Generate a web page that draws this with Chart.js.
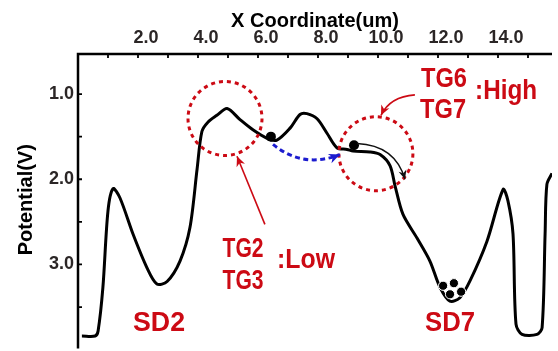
<!DOCTYPE html>
<html>
<head>
<meta charset="utf-8">
<script src="https://cdn.jsdelivr.net/npm/chart.js@4.4.1/dist/chart.umd.min.js"></script>
<style>
  html, body { margin: 0; padding: 0; background: #fff; }
</style>
</head>
<body>
<canvas id="chart" width="558" height="351"></canvas>
<script>
// potential profile
const xPos = [0.13, 0.57, 0.67, 0.83, 1.0, 1.17, 1.4, 1.83, 2.3, 2.63, 2.97, 3.4, 3.73, 3.97,
  4.13, 4.33, 4.63, 4.97, 5.4, 5.83, 6.3, 6.63, 7.07, 7.4, 7.63, 7.97, 8.3, 8.63, 8.97, 9.17,
  9.73, 10.07, 10.4, 10.57, 10.83, 11.3, 11.73, 12.07, 12.4, 12.73, 13.07, 13.63, 14.17, 14.33,
  14.5, 14.6, 14.8, 15.3, 15.47, 15.57, 15.63, 15.8];
const potential = [3.84, 3.84, 3.78, 3.27, 2.37, 2.11, 2.22, 2.64, 3.04, 3.23, 3.2, 2.96, 2.57, 1.88,
  1.44, 1.33, 1.25, 1.17, 1.3, 1.42, 1.52, 1.54, 1.40, 1.24, 1.23, 1.29, 1.46, 1.63, 1.65, 1.67,
  1.68, 1.71, 1.84, 2.08, 2.41, 2.69, 2.96, 3.27, 3.43, 3.39, 3.19, 2.73, 2.12, 2.25,
  2.64, 3.70, 3.82, 3.82, 3.74, 2.64, 2.06, 1.93];

// electrons (black dots)
const electronX = [6.43, 9.2, 12.17, 12.53, 12.4, 12.77];
const electronY = [1.50, 1.60, 3.25, 3.22, 3.35, 3.32];

// ticks
const xTicks = [1, 2, 3, 4, 5, 6, 7, 8, 9, 10, 11, 12, 13, 14, 15];
const xLabelValues = [2, 4, 6, 8, 10, 12, 14];
const yTicks = [1.0, 1.5, 2.0, 2.5, 3.0, 3.5];
const yLabelValues = [1, 2, 3];

// red notes
const noteText = ['TG2', 'TG3', ':Low', 'TG6', 'TG7', ':High', 'SD2', 'SD7'];
const noteX = [5.5, 5.5, 7.6, 12.2, 12.17, 14.27, 2.7, 12.4];
const noteY = [2.81, 3.19, 2.94, 0.82, 1.18, 0.95, 3.68, 3.68];

// dashed gate circles
const circleX = [4.9, 9.93];
const circleY = [1.287, 1.70];

// arrows: start, control, end (data units)
const arrows = [
  { from: [6.23, 2.53], ctrl: null, to: [5.3, 1.73], kind: 'red' },
  { from: [11.23, 1.01], ctrl: [10.4, 1.03], to: [10.1, 1.25], kind: 'red' },
  { from: [6.5, 1.59], ctrl: [7.5, 1.88], to: [8.73, 1.71], kind: 'blue' },
  { from: [9.3, 1.58], ctrl: [10.57, 1.60], to: [10.9, 2.0], kind: 'black' },
];

const RED = '#cc0a14';
const BLUE = '#1c1ccf';
const noteWidth = { 'TG2': 41, 'TG3': 41, ':Low': 58, 'TG6': 46, 'TG7': 46, ':High': 62, 'SD2': 52, 'SD7': 50 };

const arrowStyle = {
  red: { color: RED, width: 1.6, dash: [], head: 10 },
  blue: { color: BLUE, width: 3, dash: [5, 3.5], head: 11 },
  black: { color: '#111', width: 1.4, dash: [], head: 9 },
};

function drawHead(ctx, x, y, angle, size, color) {
  ctx.save();
  ctx.translate(x, y);
  ctx.rotate(angle);
  ctx.fillStyle = color;
  ctx.beginPath();
  ctx.moveTo(0, 0);
  ctx.lineTo(-size, -size * 0.45);
  ctx.lineTo(-size * 0.7, 0);
  ctx.lineTo(-size, size * 0.45);
  ctx.closePath();
  ctx.fill();
  ctx.restore();
}

const framePlugin = {
  id: 'frame',
  afterDatasetsDraw(chart) {
    const { ctx, chartArea } = chart;
    const xs = chart.scales.x;
    const ys = chart.scales.y;
    const px = (v) => xs.getPixelForValue(v);
    const py = (v) => ys.getPixelForValue(v);

    ctx.save();
    // axes lines and inward ticks
    ctx.strokeStyle = '#000';
    ctx.lineWidth = 2.5;
    ctx.beginPath();
    ctx.moveTo(chartArea.left, chartArea.bottom + 3);
    ctx.lineTo(chartArea.left, chartArea.top);
    ctx.lineTo(chartArea.right, chartArea.top);
    ctx.stroke();
    ctx.lineWidth = 1.8;
    ctx.beginPath();
    xTicks.forEach((v) => {
      ctx.moveTo(px(v), chartArea.top);
      ctx.lineTo(px(v), chartArea.top + 4);
    });
    yTicks.forEach((v) => {
      ctx.moveTo(chartArea.left, py(v));
      ctx.lineTo(chartArea.left + 4, py(v));
    });
    ctx.stroke();

    // dashed circles
    ctx.strokeStyle = RED;
    ctx.lineWidth = 3;
    ctx.setLineDash([4, 4]);
    circleX.forEach((cx, i) => {
      ctx.beginPath();
      ctx.arc(px(cx), py(circleY[i]), 37, 0, Math.PI * 2);
      ctx.stroke();
    });

    // arrows
    arrows.forEach((a) => {
      const st = arrowStyle[a.kind];
      const x0 = px(a.from[0]), y0 = py(a.from[1]);
      const x1 = px(a.to[0]), y1 = py(a.to[1]);
      ctx.strokeStyle = st.color;
      ctx.lineWidth = st.width;
      ctx.setLineDash(st.dash);
      ctx.beginPath();
      ctx.moveTo(x0, y0);
      let ang;
      if (a.ctrl) {
        const cx = px(a.ctrl[0]), cy = py(a.ctrl[1]);
        ctx.quadraticCurveTo(cx, cy, x1, y1);
        ang = Math.atan2(y1 - cy, x1 - cx);
      } else {
        ctx.lineTo(x1, y1);
        ang = Math.atan2(y1 - y0, x1 - x0);
      }
      ctx.stroke();
      ctx.setLineDash([]);
      drawHead(ctx, x1, y1, ang, st.head, st.color);
    });

    // notes
    ctx.fillStyle = RED;
    ctx.font = 'bold 28px "Liberation Sans", Arial, sans-serif';
    ctx.textAlign = 'center';
    ctx.textBaseline = 'middle';
    noteText.forEach((t, i) => {
      ctx.fillText(t, px(noteX[i]), py(noteY[i]) + 1, noteWidth[t]);
    });
    ctx.restore();
  },
};

const tickFont = { family: '"Liberation Sans", Arial, sans-serif', size: 18, weight: 'bold' };
const titleFont = { family: '"Liberation Sans", Arial, sans-serif', size: 20, weight: 'bold' };

new Chart(document.getElementById('chart').getContext('2d'), {
  type: 'scatter',
  data: {
    datasets: [
      {
        label: 'Potential',
        data: xPos.map((x, i) => ({ x, y: potential[i] })),
        showLine: true,
        borderColor: '#000',
        borderWidth: 3,
        pointRadius: 0,
        tension: 0.3,
        order: 2,
      },
      {
        label: 'Electrons',
        data: electronX.map((x, i) => ({ x, y: electronY[i] })),
        pointRadius: [5, 5, 4.6, 4.6, 4.6, 4.6],
        backgroundColor: '#000',
        borderColor: '#fff',
        borderWidth: [0, 0, 1, 1, 1, 1],
        order: 1,
      },
    ],
  },
  options: {
    responsive: false,
    animation: false,
    devicePixelRatio: 1,
    layout: { padding: { left: 0, right: 6, top: 0, bottom: 0 } },
    plugins: { legend: { display: false }, tooltip: { enabled: false } },
    scales: {
      x: {
        type: 'linear',
        position: 'top',
        min: 0,
        max: 15.8,
        afterBuildTicks: (s) => { s.ticks = xTicks.map((v) => ({ value: v })); },
        afterFit: (s) => {
          s.height = 54;
          s.paddingLeft = 0;
          s.paddingRight = 0;
        },
        grid: { display: false, drawTicks: false },
        border: { display: false },
        ticks: {
          autoSkip: false,
          maxRotation: 0,
          labelOffset: 8,
          padding: 5,
          color: '#2b2626',
          font: tickFont,
          callback: (v) => (xLabelValues.includes(v) ? v.toFixed(1) : ''),
        },
        title: {
          display: true,
          text: 'X Coordinate(um)',
          color: '#000',
          font: titleFont,
          padding: { top: 9, bottom: 0 },
        },
      },
      y: {
        type: 'linear',
        reverse: true,
        min: 0.53,
        max: 3.95,
        afterBuildTicks: (s) => { s.ticks = yTicks.map((v) => ({ value: v })); },
        afterFit: (s) => {
          s.width = 78;
          s.paddingTop = 0;
          s.paddingBottom = 0;
        },
        grid: { display: false, drawTicks: false },
        border: { display: false },
        ticks: {
          autoSkip: false,
          padding: 4,
          color: '#2b2626',
          font: tickFont,
          callback: (v) => (yLabelValues.includes(v) ? v.toFixed(1) : ''),
        },
        title: {
          display: true,
          text: 'Potential(V)',
          color: '#000',
          font: titleFont,
          padding: { top: 14, bottom: 0 },
        },
      },
    },
  },
  plugins: [framePlugin],
});
</script>
</body>
</html>
